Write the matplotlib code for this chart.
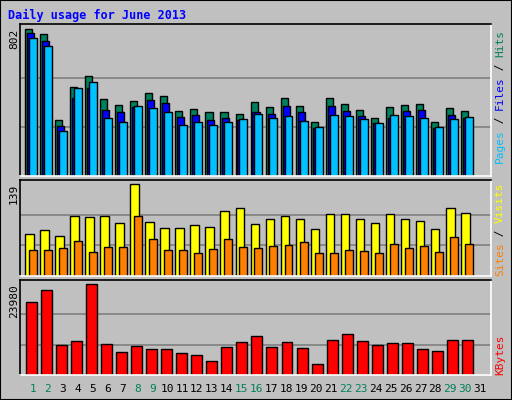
import matplotlib
matplotlib.use("Agg")
import matplotlib.pyplot as plt
import matplotlib.patches as mpatches
import numpy as np

# values
days = list(range(1, 32))
weekend = [1, 2, 8, 9, 15, 16, 22, 23, 29, 30]
hits = [802, 775, 305, 485, 545, 420, 388, 410, 453, 437, 355, 366, 349, 349, 338, 404, 377, 426, 382, 295, 426, 393, 360, 316, 377, 388, 393, 295, 371, 355]
files = [780, 736, 273, 425, 480, 360, 349, 376, 415, 398, 322, 333, 306, 317, 306, 349, 338, 382, 349, 260, 382, 355, 327, 289, 317, 355, 360, 262, 333, 317]
pages = [753, 709, 245, 480, 513, 316, 295, 382, 371, 349, 278, 295, 278, 295, 311, 338, 316, 327, 300, 267, 333, 327, 311, 287, 333, 327, 316, 267, 311, 322]
visits = [64, 70, 61, 91, 89, 91, 80, 139, 82, 73, 73, 77, 74, 98, 103, 79, 86, 91, 86, 71, 94, 94, 86, 80, 94, 86, 83, 71, 103, 95]
sites = [40, 40, 43, 53, 37, 44, 44, 91, 56, 40, 40, 34, 41, 56, 44, 43, 46, 47, 52, 34, 34, 40, 38, 34, 49, 43, 46, 37, 59, 49]
kbytes = [19250, 22400, 7960, 9010, 23980, 8220, 6120, 7700, 6910, 6910, 5860, 5340, 3760, 7440, 8750, 10320, 7440, 8750, 7180, 2970, 9280, 10850, 9010, 7960, 8490, 8490, 6910, 6390, 9280, 9280]

BG = "#C0C0C0"
mono = "DejaVu Sans Mono"
W, H = 512, 400

fig = plt.figure(figsize=(5.12, 4.0), dpi=100, facecolor=BG)

def px_axes(left, top, right, bottom):
    return fig.add_axes([left / W, 1 - bottom / H, (right - left) / W, (bottom - top) / H])

# outer border
fig.patches.append(mpatches.Rectangle((0, 0), 1, 1, transform=fig.transFigure,
                                      fill=False, edgecolor="black", lw=1.5))
fig.text(8 / W, 1 - 15 / H, "Daily usage for June 2013", color="#0000FF",
         family=mono, weight="bold", fontsize=8.5, va="center")

x = np.array(days[:30], dtype=float)
xlim = (1 - 13 / 15, 1 - 13 / 15 + 470 / 15)

# (left, top, right, baseline), max value, pixel of max label
panels = [
    ((20, 24, 491, 176), 802, 29),
    ((20, 180, 491, 276), 139, 184),
    ((20, 280, 491, 375), 23980, 284),
]

axes = []
for (l, t, r, b), mx, lab in panels:
    ax = px_axes(l, t, r, b)
    ax.set_facecolor(BG)
    ax.set_xlim(*xlim)
    ax.set_ylim(0, mx * (b - t) / (b - lab))
    for y in (mx / 3, 2 * mx / 3):
        ax.axhline(y, color="#808080", lw=1.2, zorder=0)
    ax.set_xticks([])
    ax.set_yticks([])
    for s in ("top", "left"):
        ax.spines[s].set_color("black")
    for s in ("bottom", "right"):
        ax.spines[s].set_color("white")
    for s in ax.spines.values():
        s.set_linewidth(1.2)
    fig.text(14 / W, 1 - lab / H, str(mx), rotation=90, family=mono,
             fontsize=8, va="top", ha="center")
    axes.append(ax)

kw = dict(align="edge", edgecolor="black", linewidth=1)
a0, a1, a2 = axes
a0.bar(x - 0.53, hits, width=0.47, color="#00805C", **kw)
a0.bar(x - 0.40, files, width=0.47, color="#0000FF", **kw)
a0.bar(x - 0.27, pages, width=0.53, color="#00C0FF", **kw)
a1.bar(x - 0.53, visits, width=0.57, color="#FFFF00", **kw)
a1.bar(x - 0.27, sites, width=0.53, color="#FF8000", **kw)
a2.bar(x - 0.47, kbytes, width=0.73, color="#FF0000", **kw)

# right side labels (read bottom to top)
def side_label(parts, y_bottom):
    y = 1 - y_bottom / H
    for txt, col in parts:
        t = fig.text(500 / W, y, txt, rotation=90, color=col, family=mono,
                     fontsize=8, ha="center", va="bottom")
        y += len(txt) * 6.6 / H

side_label([("Pages", "#00C0FF"), (" / ", "black"), ("Files", "#0000FF"),
            (" / ", "black"), ("Hits", "#00805C")], 163)
side_label([("Sites", "#FF8000"), (" / ", "black"), ("Visits", "#FFFF00")], 276)
side_label([("KBytes", "#FF0000")], 375)

for d in days:
    px = 33 + (d - 1) * 14.9
    fig.text(px / W, 1 - 389 / H, str(d), family=mono, fontsize=8,
             color="#00805C" if d in weekend else "black", ha="center", va="center")

fig.savefig("out.png", dpi=100, facecolor=BG)
